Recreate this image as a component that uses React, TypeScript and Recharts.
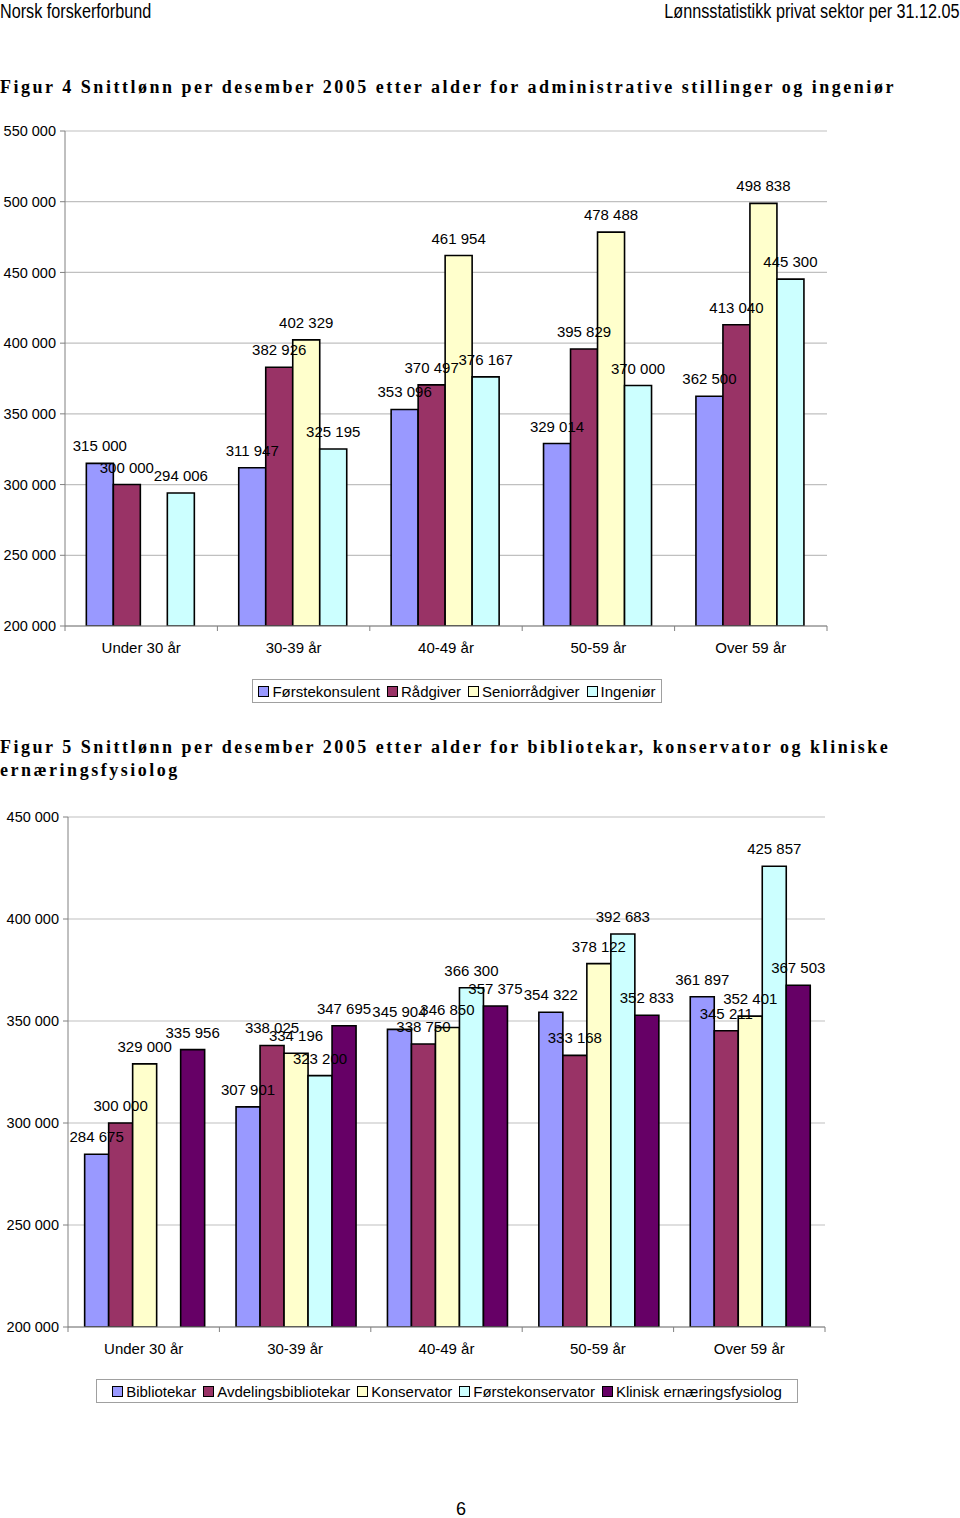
import React from 'react'
import { BarChart, Bar, XAxis, YAxis, CartesianGrid, LabelList } from 'recharts'

// Figur 4 - administrative stillinger og ingeniør
const ageGroups = ['Under 30 år', '30-39 år', '40-49 år', '50-59 år', 'Over 59 år']
const forstekonsulent = [315000, 311947, 353096, 329014, 362500]
const radgiver = [300000, 382926, 370497, 395829, 413040]
const seniorradgiver = [null, 402329, 461954, 478488, 498838]
const ingenior = [294006, 325195, 376167, 370000, 445300]
const fig4Ticks = [200000, 250000, 300000, 350000, 400000, 450000, 500000, 550000]

// Figur 5 - bibliotekar, konservator og klinisk ernæringsfysiolog
const bibliotekar = [284675, 307901, 345904, 354322, 361897]
const avdelingsbibliotekar = [300000, 338025, 338750, 333168, 345211]
const konservator = [329000, 334196, 346850, 378122, 352401]
const forstekonservator = [null, 323200, 366300, 392683, 425857]
const kliniskErnaering = [335956, 347695, 357375, 352833, 367503]
const fig5Ticks = [200000, 250000, 300000, 350000, 400000, 450000]

const fig4Series = [
  { key: 'forstekonsulent', name: 'Førstekonsulent', color: '#9999FF', values: forstekonsulent },
  { key: 'radgiver', name: 'Rådgiver', color: '#993366', values: radgiver },
  { key: 'seniorradgiver', name: 'Seniorrådgiver', color: '#FFFFCC', values: seniorradgiver },
  { key: 'ingenior', name: 'Ingeniør', color: '#CCFFFF', values: ingenior },
]

const fig5Series = [
  { key: 'bibliotekar', name: 'Bibliotekar', color: '#9999FF', values: bibliotekar },
  { key: 'avdelingsbibliotekar', name: 'Avdelingsbibliotekar', color: '#993366', values: avdelingsbibliotekar },
  { key: 'konservator', name: 'Konservator', color: '#FFFFCC', values: konservator },
  { key: 'forstekonservator', name: 'Førstekonservator', color: '#CCFFFF', values: forstekonservator },
  { key: 'klinisk', name: 'Klinisk ernæringsfysiolog', color: '#660066', values: kliniskErnaering },
]

const buildRows = (series: any[]) =>
  ageGroups.map((age, i) => {
    const row: any = { age }
    series.forEach((s) => (row[s.key] = s.values[i]))
    return row
  })

const fmt = (v: any) =>
  v == null ? '' : String(v).replace(/\B(?=(\d{3})+(?!\d))/g, ' ')

const FONT = '"Liberation Sans", Arial, sans-serif'
const AXIS = '#808080'

// kategori-etikett + tikk ved kategorigrensene (som i Excel)
const makeCatTick = (band: number) => (props: any) => {
  const { x, y, payload, index } = props
  const left = x - band / 2
  return (
    <g>
      <line x1={left} x2={left} y1={y} y2={y + 5} stroke={AXIS} />
      {index === ageGroups.length - 1 && (
        <line x1={left + band} x2={left + band} y1={y} y2={y + 5} stroke={AXIS} />
      )}
      <text x={x} y={y + 21} textAnchor="middle" dominantBaseline="central" fontSize={15} fill="#000" fontFamily={FONT}>
        {payload.value}
      </text>
    </g>
  )
}

// verdietikett over søylen, uten linjeskift
const ValueLabel = (props: any) => {
  const { x, y, width, value } = props
  if (value == null) return null
  return (
    <text x={x + width / 2} y={y - 12} textAnchor="middle" fontSize={15} fill="#000" fontFamily={FONT}>
      {fmt(value)}
    </text>
  )
}

interface ChartProps {
  series: any[]
  ticks: number[]
  top: number
  height: number
  yWidth: number
  right: number
  catGap: string
}

function SalaryChart({ series, ticks, top, height, yWidth, right, catGap }: ChartProps) {
  const width = 960
  const band = (width - yWidth - right) / ageGroups.length
  return (
    <div style={{ position: 'absolute', left: 0, top }}>
      <BarChart
        width={width}
        height={height}
        data={buildRows(series)}
        margin={{ top: 12, right, bottom: 4, left: 0 }}
        barGap={0}
        barCategoryGap={catGap}
      >
        <CartesianGrid vertical={false} stroke="#C0C0C0" strokeWidth={1.2} />
        <XAxis
          dataKey="age"
          height={30}
          stroke={AXIS}
          tickSize={0}
          tickMargin={0}
          tick={makeCatTick(band)}
          interval={0}
        />
        <YAxis
          width={yWidth}
          domain={[ticks[0], ticks[ticks.length - 1]]}
          ticks={ticks}
          tickFormatter={fmt}
          stroke={AXIS}
          tickSize={5}
          tickMargin={4}
          tick={{ fill: '#000', fontSize: 14.5, fontFamily: FONT }}
          allowDataOverflow
        />
        <YAxis
          yAxisId="r"
          orientation="right"
          width={0}
          domain={[ticks[0], ticks[ticks.length - 1]]}
          tick={false}
          tickLine={false}
          stroke={AXIS}
        />
        {series.map((s) => (
          <Bar
            key={s.key}
            dataKey={s.key}
            name={s.name}
            fill={s.color}
            stroke="#000"
            strokeWidth={1.6}
            isAnimationActive={false}
          >
            <LabelList dataKey={s.key} content={<ValueLabel />} />
          </Bar>
        ))}
      </BarChart>
    </div>
  )
}

function ChartLegend({ series, left, top, width }: { series: any[]; left: number; top: number; width: number }) {
  return (
    <div
      style={{
        position: 'absolute',
        left,
        top,
        width,
        height: 24,
        border: '1px solid #A0A0A0',
        display: 'flex',
        alignItems: 'center',
        justifyContent: 'center',
        gap: 7,
        fontFamily: FONT,
        fontSize: 15,
        color: '#000',
        boxSizing: 'border-box',
      }}
    >
      {series.map((s) => (
        <div key={s.key} style={{ display: 'flex', alignItems: 'center', gap: 3 }}>
          <div style={{ width: 9, height: 9, background: s.color, border: '1px solid #000' }} />
          <span>{s.name}</span>
        </div>
      ))}
    </div>
  )
}

const titleStyle: React.CSSProperties = {
  position: 'absolute',
  left: 0,
  fontFamily: '"Liberation Serif", "Times New Roman", serif',
  fontWeight: 'bold',
  fontSize: 18,
  letterSpacing: 2.52,
  lineHeight: '23px',
  whiteSpace: 'nowrap',
  color: '#000',
}

const headerStyle: React.CSSProperties = {
  position: 'absolute',
  top: 0,
  fontFamily: FONT,
  fontSize: 20,
  lineHeight: '22px',
  color: '#000',
  whiteSpace: 'nowrap',
  transform: 'scaleX(0.81)',
}

export default function App() {
  return (
    <div style={{ position: 'absolute', left: 0, top: 0, width: 960, height: 1518, background: '#fff', overflow: 'hidden' }}>
      <div style={{ ...headerStyle, left: 0, transformOrigin: 'left top' }}>Norsk forskerforbund</div>
      <div style={{ ...headerStyle, right: 0, transformOrigin: 'right top' }}>Lønnsstatistikk privat sektor per 31.12.05</div>

      <div style={{ ...titleStyle, top: 76 }}>
        Figur 4 Snittlønn per desember 2005 etter alder for administrative stillinger og ingeniør
      </div>
      <SalaryChart series={fig4Series} ticks={fig4Ticks} top={119} height={541} yWidth={65} right={133} catGap="14%" />
      <ChartLegend series={fig4Series} left={252} top={679} width={410} />

      <div style={{ ...titleStyle, top: 736 }}>
        Figur 5 Snittlønn per desember 2005 etter alder for bibliotekar, konservator og kliniske
        <br />
        ernæringsfysiolog
      </div>
      <SalaryChart series={fig5Series} ticks={fig5Ticks} top={805} height={556} yWidth={68} right={135} catGap="11%" />
      <ChartLegend series={fig5Series} left={96} top={1379} width={702} />

      <div style={{ position: 'absolute', left: 0, width: 922, top: 1501, textAlign: 'center', fontFamily: FONT, fontSize: 18, lineHeight: '17px' }}>6</div>
    </div>
  )
}
